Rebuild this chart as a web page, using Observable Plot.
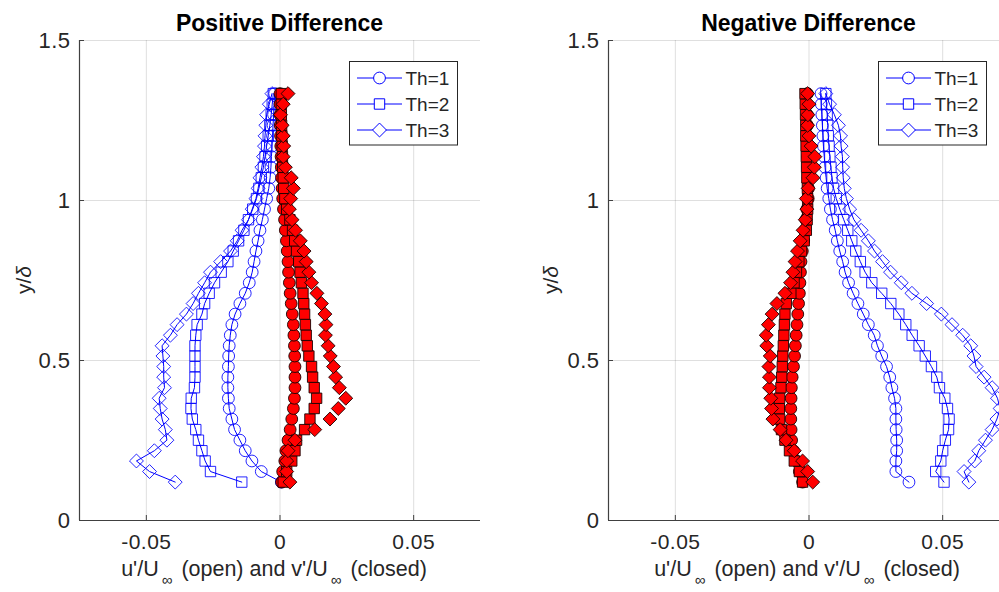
<!DOCTYPE html>
<html>
<head>
<meta charset="utf-8">
<script src="https://cdn.jsdelivr.net/npm/d3@7"></script>
<script src="https://cdn.jsdelivr.net/npm/@observablehq/plot@0.6"></script>
<style>
html, body { margin: 0; padding: 0; background: #fff; }
#chart { position: relative; width: 999px; height: 592px; overflow: hidden; background: #fff; }
#chart > svg { position: absolute; top: 0; }
</style>
</head>
<body>
<div id="chart"></div>
<script>
// ---------- data ----------
const titles = ["Positive Difference", "Negative Difference"];
const thLabels = ["Th=1", "Th=2", "Th=3"];
const xTicks = [-0.05, 0, 0.05];
const yTicks = [0, 0.5, 1, 1.5];
const xDomain = [-0.075, 0.075];
const yDomain = [0, 1.5];

const yDelta = [0.120,0.153,0.186,0.218,0.251,0.284,0.317,0.350,0.382,0.415,0.448,0.481,0.514,0.546,0.579,0.612,0.645,0.678,0.710,0.743,0.776,0.809,0.842,0.874,0.907,0.940,0.973,1.006,1.038,1.071,1.104,1.137,1.170,1.202,1.235,1.268,1.301,1.334];

// Positive Difference: u' (open, blue) and v' (closed, red)
const uPos1 = [0.0005,-0.007,-0.0105,-0.013,-0.015,-0.017,-0.018,-0.019,-0.0193,-0.0195,-0.0195,-0.0193,-0.0192,-0.019,-0.0186,-0.018,-0.0168,-0.015,-0.013,-0.0115,-0.0104,-0.0097,-0.009,-0.0082,-0.0075,-0.0066,-0.0058,-0.005,-0.0042,-0.0037,-0.0034,-0.0032,-0.003,-0.0028,-0.0026,-0.0024,-0.0022,-0.002];
const uPos2 = [-0.0143,-0.026,-0.028,-0.0292,-0.0305,-0.0315,-0.0328,-0.0333,-0.0332,-0.032,-0.0318,-0.0318,-0.0318,-0.0318,-0.0315,-0.031,-0.0292,-0.0282,-0.0265,-0.0245,-0.022,-0.0195,-0.0175,-0.0155,-0.0135,-0.0118,-0.0102,-0.0088,-0.0079,-0.007,-0.0062,-0.0056,-0.005,-0.0044,-0.0038,-0.0033,-0.0029,-0.0025];
const uPos3 = [-0.0392,-0.0488,-0.0537,-0.047,-0.0423,-0.0429,-0.0441,-0.0448,-0.0452,-0.0432,-0.0435,-0.0435,-0.0438,-0.0441,-0.041,-0.0385,-0.035,-0.0325,-0.0305,-0.0282,-0.026,-0.0222,-0.0185,-0.016,-0.0142,-0.0118,-0.0104,-0.009,-0.0082,-0.0075,-0.0068,-0.0062,-0.0058,-0.0056,-0.0053,-0.005,-0.004,-0.003];
const vPos1 = [0.0006,0.001,0.0018,0.0022,0.003,0.0038,0.0044,0.005,0.0054,0.0056,0.0056,0.0056,0.0055,0.0054,0.0052,0.005,0.0046,0.0042,0.0038,0.0035,0.0032,0.003,0.0027,0.0024,0.002,0.0017,0.0013,0.001,0.0008,0.0006,0.0005,0.0004,0.0003,0.0002,0.0001,0,0,0];
const vPos2 = [0.0012,0.0025,0.0044,0.0056,0.0062,0.0092,0.0112,0.0128,0.0137,0.0128,0.0122,0.0118,0.0108,0.0102,0.0098,0.0095,0.0092,0.0089,0.0086,0.008,0.0075,0.007,0.0062,0.0055,0.0047,0.0037,0.0025,0.0018,0.0014,0.0012,0.001,0.0009,0.0008,0.0007,0.0006,0.0005,0.0005,0.0005];
const vPos3 = [0.0037,0.0025,0.0025,0.003,0.0056,0.013,0.0187,0.0218,0.0246,0.0222,0.0208,0.02,0.0188,0.018,0.017,0.0172,0.0168,0.0155,0.0138,0.0118,0.0108,0.0098,0.009,0.0076,0.0058,0.0045,0.0035,0.004,0.005,0.0042,0.002,0.0012,0.0014,0.0012,0.0008,0.0002,0.0012,0.003];

// Negative Difference
const uNeg1 = [0.0374,0.0325,0.0325,0.0328,0.0328,0.0326,0.0325,0.0325,0.032,0.031,0.0302,0.029,0.0272,0.0256,0.0244,0.0222,0.0203,0.0183,0.0165,0.0148,0.0135,0.0126,0.0115,0.0106,0.0098,0.0088,0.008,0.0074,0.0068,0.0064,0.006,0.0057,0.0054,0.0052,0.005,0.0048,0.0046,0.0045];
const uNeg2 = [0.0505,0.0474,0.0493,0.05,0.051,0.0522,0.0524,0.0518,0.0508,0.0488,0.0478,0.0458,0.0435,0.0412,0.0386,0.0362,0.0336,0.0306,0.0272,0.0235,0.021,0.0192,0.0175,0.016,0.0145,0.013,0.0115,0.0102,0.0092,0.0086,0.0082,0.0078,0.0075,0.0072,0.007,0.0068,0.0065,0.0063];
const uNeg3 = [0.0598,0.058,0.062,0.0635,0.066,0.0685,0.0703,0.0715,0.0705,0.0685,0.0655,0.0625,0.0617,0.0605,0.0575,0.0535,0.0495,0.044,0.0385,0.0345,0.0305,0.0275,0.0245,0.0222,0.0195,0.0168,0.0152,0.014,0.0132,0.0128,0.0126,0.0125,0.012,0.0118,0.011,0.0095,0.0077,0.0063];
const vNeg1 = [-0.0024,-0.0036,-0.0048,-0.0058,-0.0065,-0.0067,-0.0068,-0.0068,-0.0067,-0.0066,-0.0063,-0.0058,-0.0054,-0.0051,-0.0048,-0.0045,-0.0042,-0.0039,-0.0036,-0.0034,-0.0032,-0.003,-0.0025,-0.002,-0.0016,-0.0012,-0.0008,-0.0003,-0.0002,-0.0003,-0.0004,-0.0005,-0.0005,-0.0006,-0.0006,-0.0006,-0.0006,-0.0006];
const vNeg2 = [-0.0024,-0.0036,-0.0055,-0.0073,-0.009,-0.0103,-0.011,-0.0111,-0.011,-0.0105,-0.0102,-0.01,-0.0098,-0.0096,-0.0094,-0.0092,-0.009,-0.0085,-0.0068,-0.0056,-0.0047,-0.0038,-0.0028,-0.0018,-0.001,-0.0007,-0.0005,-0.0005,-0.0006,-0.0008,-0.0009,-0.001,-0.0011,-0.0012,-0.0012,-0.0013,-0.0014,-0.0015];
const vNeg3 = [0.0014,-0.0005,-0.0024,-0.0055,-0.0086,-0.0108,-0.0135,-0.014,-0.0143,-0.0148,-0.0148,-0.015,-0.0145,-0.0158,-0.016,-0.0152,-0.0138,-0.012,-0.009,-0.0069,-0.006,-0.0052,-0.0043,-0.0033,-0.0022,-0.0014,-0.0008,-0.001,-0.0003,0.0015,0.002,0.0022,0.0008,0,-0.0005,-0.0004,0,-0.0005];

// ---------- styling ----------
const FONT = "'Liberation Sans', Arial, Helvetica, sans-serif";
const INK = "#262626";
const BLUE = "#0000ff";
const RED = "#ff0000";
const R = 5.9;

const symCircle = {draw(ctx, size) { const r = Math.sqrt(size / Math.PI); ctx.moveTo(r, 0); ctx.arc(0, 0, r, 0, 2 * Math.PI); ctx.closePath(); }};
const symSquare = {draw(ctx, size) { const s = Math.sqrt(size / Math.PI) * 0.88; ctx.moveTo(-s, -s); ctx.lineTo(s, -s); ctx.lineTo(s, s); ctx.lineTo(-s, s); ctx.closePath(); }};
const symDiamond = {draw(ctx, size) { const s = Math.sqrt(size / Math.PI) * 1.18; ctx.moveTo(0, -s); ctx.lineTo(s, 0); ctx.lineTo(0, s); ctx.lineTo(-s, 0); ctx.closePath(); }};
const SYM = [symCircle, symSquare, symDiamond];

const fmt = d => String(d);
const rows = xs => xs.map((x, i) => ({x, y: yDelta[i]}));

function panel(u, v, width, marginLeft, marginRight) {
  const marks = [
    Plot.gridX(xTicks, {stroke: INK, strokeOpacity: 0.15}),
    Plot.gridY(yTicks, {stroke: INK, strokeOpacity: 0.15}),
    Plot.ruleY([yDomain[0]], {stroke: "#404040", strokeWidth: 1.2}),
    Plot.ruleX([xDomain[0]], {stroke: "#404040", strokeWidth: 1.2}),
    Plot.axisX(xTicks, {tickSize: -5, tickPadding: 19, tickFormat: fmt, label: null, stroke: "#404040", fontSize: 21}),
    Plot.axisY(yTicks, {tickSize: -5, tickPadding: 14, tickFormat: fmt, label: null, stroke: "#404040"})
  ];
  u.forEach((s, k) => {
    marks.push(Plot.line(rows(s), {x: "x", y: "y", stroke: BLUE, strokeWidth: 1}));
    marks.push(Plot.dot(rows(s), {x: "x", y: "y", r: R, symbol: SYM[k], stroke: BLUE, strokeOpacity: 0.85, fill: "none", strokeWidth: 1}));
  });
  v.forEach((s, k) => {
    marks.push(Plot.dot(rows(s), {x: "x", y: "y", r: R, symbol: SYM[k], fill: RED, stroke: "#1a0000", strokeWidth: 0.9}));
  });
  return Plot.plot({
    width, height: 592,
    marginLeft, marginRight, marginTop: 40, marginBottom: 72,
    x: {domain: xDomain, label: null},
    y: {domain: yDomain, label: null},
    style: {fontFamily: FONT, fontSize: "22px", color: INK, background: "transparent", overflow: "visible", letterSpacing: "0.5px"},
    marks
  });
}

const chart = document.getElementById("chart");
const left = panel([uPos1, uPos2, uPos3], [vPos1, vPos2, vPos3], 500, 79, 20);
left.style.left = "0px";
chart.appendChild(left);
const right = panel([uNeg1, uNeg2, uNeg3], [vNeg1, vNeg2, vNeg3], 520, 108, 11);
right.style.left = "500px";
chart.appendChild(right);

// ---------- overlay: titles, labels, legends ----------
const ov = d3.select(chart).append("svg")
  .attr("width", 999).attr("height", 592)
  .style("left", "0px")
  .style("font-family", FONT)
  .attr("fill", INK);

const panels = [
  {title: titles[0], cx: 279.5, labelCx: 274, ylabX: 31, legX: 349.5},
  {title: titles[1], cx: 808.5, labelCx: 807, ylabX: 558, legX: 878.5}
];

panels.forEach(p => {
  ov.append("text").attr("x", p.cx).attr("y", 31).attr("text-anchor", "middle")
    .attr("font-size", 23).attr("font-weight", "bold").attr("fill", "#000").text(p.title);

  const xl = ov.append("text").attr("x", p.labelCx).attr("y", 576).attr("text-anchor", "middle").attr("font-size", 21.5);
  xl.append("tspan").text("u'/U");
  xl.append("tspan").attr("dx", 3).attr("dy", 9).attr("font-size", 15).text("∞");
  xl.append("tspan").attr("dx", 3).attr("dy", -9).text(" (open) and v'/U");
  xl.append("tspan").attr("dx", 3).attr("dy", 9).attr("font-size", 15).text("∞");
  xl.append("tspan").attr("dx", 3).attr("dy", -9).text(" (closed)");

  const yl = ov.append("text").attr("transform", `translate(${p.ylabX},280) rotate(-90)`)
    .attr("text-anchor", "middle").attr("font-size", 21);
  yl.append("tspan").text("y/");
  yl.append("tspan").attr("font-style", "italic").text("δ");

  const g = ov.append("g");
  g.append("rect").attr("x", p.legX).attr("y", 61.5).attr("width", 108).attr("height", 83.5)
    .attr("fill", "#fff").attr("stroke", INK).attr("stroke-width", 1);
  thLabels.forEach((lab, k) => {
    const ry = 78 + 26 * k;
    g.append("line").attr("x1", p.legX + 7.5).attr("x2", p.legX + 52.5).attr("y1", ry).attr("y2", ry)
      .attr("stroke", BLUE).attr("stroke-width", 1);
    g.append("path").attr("d", d3.symbol(SYM[k], Math.PI * R * R)())
      .attr("transform", `translate(${p.legX + 30},${ry})`)
      .attr("fill", "#fff").attr("stroke", BLUE).attr("stroke-width", 1);
    g.append("text").attr("x", p.legX + 56).attr("y", ry + 7).attr("font-size", 19).text(lab);
  });
});
</script>
</body>
</html>
